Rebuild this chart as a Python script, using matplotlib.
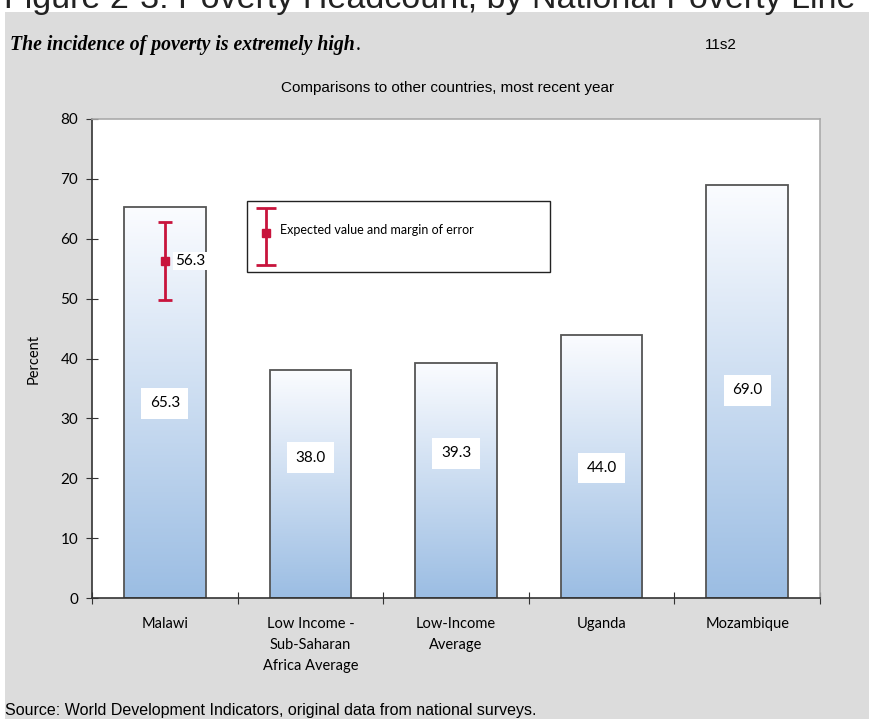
import numpy as np
import matplotlib
matplotlib.use("Agg")
import matplotlib.pyplot as plt
from matplotlib.colors import LinearSegmentedColormap
from matplotlib.patches import Rectangle

categories = ["Malawi", "Low Income -\nSub-Saharan\nAfrica Average", "Low-Income\nAverage", "Uganda", "Mozambique"]
values = [65.3, 38.0, 39.3, 44.0, 69.0]
label_y = [32.5, 23.4, 24.2, 21.7, 34.7]
expected = 56.3
err_low = 49.7
err_high = 62.8

red = "#c8143c"
fig = plt.figure(figsize=(8.7, 7.19), dpi=100)
fig.patch.set_facecolor("white")
bg = fig.add_axes([5/870, 0, 1, (719-12)/719], zorder=-10)
bg.set_facecolor("#dcdcdc")
bg.set_xticks([])
bg.set_yticks([])
for s in bg.spines.values():
    s.set_visible(False)

fig.text(430/870, 1 - 8/719, "Figure 2-3: Poverty Headcount, by National Poverty Line",
         ha="center", va="baseline", fontsize=24.5, color="#222222", family="Liberation Sans")
title = fig.text(10/870, 1 - 45/719, "The incidence of poverty is extremely high", ha="left", va="center",
                 fontsize=14.2, fontweight="bold", fontstyle="italic", family="Liberation Serif")
fig.canvas.draw()
bb = title.get_window_extent()
fig.text(bb.x1 / 870 + 1/870, 1 - 45/719, ".", ha="left", va="center", fontsize=14.2, family="Liberation Serif")
fig.text(705/870, 1 - 45/719, "11s2", ha="left", va="center", fontsize=11, family="Liberation Sans")
fig.text(448/870, 1 - 88/719, "Comparisons to other countries, most recent year", ha="center", va="center",
         fontsize=11, family="Liberation Sans")
fig.text(5/870, 1 - 710/719, "Source: World Development Indicators, original data from national surveys.",
         ha="left", va="center", fontsize=11.5, family="Liberation Sans")

ax = fig.add_axes([92/870, (719-598)/719, 728/870, 479/719])
ax.set_facecolor("white")

cmap = LinearSegmentedColormap.from_list("g", ["#9bbde3", "#fbfcff"])
grad = np.linspace(0, 1, 256).reshape(-1, 1)
x = np.arange(len(values))
w = 0.56
for i, v in enumerate(values):
    ax.imshow(grad, extent=[i - w/2, i + w/2, 0, v], origin="lower", aspect="auto", cmap=cmap, zorder=1)
    ax.bar(i, v, width=w, facecolor="none", edgecolor="#555555", linewidth=1.3, zorder=2)
    ax.text(i, label_y[i], f"{v:.1f}", ha="center", va="center", fontsize=11, family="Lato", zorder=4,
            bbox=dict(facecolor="white", edgecolor="none", pad=6))

ax.errorbar(0, expected, yerr=[[expected - err_low], [err_high - expected]], fmt="s", color=red,
            markersize=6, capsize=5, elinewidth=2, capthick=2, zorder=5)
ax.text(0.07, expected, f"{expected:.1f}", ha="left", va="center", fontsize=11, family="Lato", zorder=4,
        bbox=dict(facecolor="white", edgecolor="none", pad=1.5))

# legend box
ax.add_patch(Rectangle((0.565, 54.4), 2.08, 11.9, facecolor="white", edgecolor="#222222",
                       linewidth=1, zorder=3))
ax.errorbar(0.695, 61.0, yerr=[[5.4], [4.1]], fmt="s", color=red, markersize=6, capsize=7,
            elinewidth=2, capthick=2, zorder=5)
ax.text(0.79, 61.5, "Expected value and margin of error", ha="left", va="center", fontsize=9,
        family="Lato", zorder=5)

ax.set_xlim(-0.5, len(values) - 0.5)
ax.set_ylim(0, 80)
ax.set_yticks(range(0, 81, 10))
ax.set_xticks(np.arange(-0.5, len(values), 1))
ax.set_xticklabels([])
ax.set_xticks(x, minor=True)
ax.set_xticklabels(categories, minor=True, fontsize=10.5, family="Lato", linespacing=1.6, va="top")
ax.tick_params(axis="x", which="minor", length=0, pad=14)
ax.tick_params(axis="x", which="major", direction="inout", length=9, color="#333333")
ax.tick_params(axis="y", direction="inout", length=8, color="#333333", labelsize=11, pad=6)
for t in ax.get_yticklabels():
    t.set_family("Lato")
ax.set_ylabel("Percent", fontsize=10.5, family="Lato", labelpad=14)
ax.spines["left"].set_color("#333333")
ax.spines["bottom"].set_color("#333333")
ax.spines["top"].set_color("#aaaaaa")
ax.spines["right"].set_color("#aaaaaa")
for s in ax.spines.values():
    s.set_linewidth(1.2)

fig.savefig("out.png", dpi=100)
